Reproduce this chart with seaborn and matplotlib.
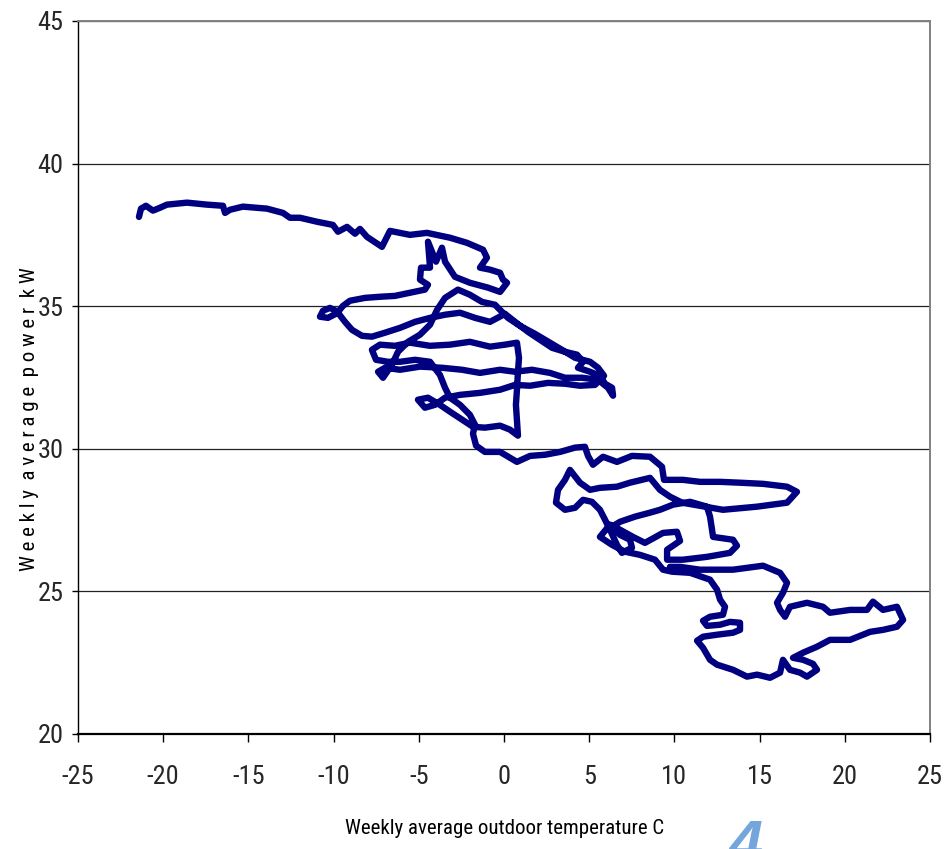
import numpy as np
import pandas as pd
import matplotlib
matplotlib.use("Agg")
import matplotlib.pyplot as plt
from matplotlib import font_manager as fm
import seaborn as sns

# weekly average outdoor temperature (C)
temperature = [
    -21.42, -21.30, -21.01, -20.60, -20.19, -19.78, -18.60, -17.43, -16.49, -16.37,
    -16.08, -15.32, -13.91, -12.97, -12.56, -11.97, -10.97, -10.04, -9.74, -9.21,
    -8.74, -8.45, -8.04, -7.16, -6.69, -5.52, -4.52, -3.17, -2.17, -1.23,
    -1.00, -1.41, -0.82, -0.23, -0.06, 0.18,
    -0.23, -0.94, -2.00, -2.88, -3.46, -3.64, -3.99, -4.46, -4.34, -4.87,
    -4.93, -4.46, -4.64, -5.52, -6.40, -7.28, -8.16, -9.04, -9.45, -9.74,
    -10.21, -10.62, -10.80, -10.33, -9.74, -9.33, -8.92, -8.33,
    -7.75, -6.98, -6.10, -5.22, -4.34, -3.46, -2.58, -1.70, -0.82, 0.06,
    0.65, 1.41, 2.11, 2.82, 3.58, 4.28, 4.64, 4.34, 5.05, 5.63,
    5.93, 6.34, 6.40,
    6.10, 5.52, 4.58, 3.58, 2.70, 1.64, 0.65, -0.23, -1.41, -2.46,
    -3.64, -4.93, -6.10, -6.98, -7.39, -7.10,
    -6.57, -6.22, -5.63, -4.93, -4.34, -3.93, -3.46, -2.70, -2.00, -1.29,
    -0.53, 0.23, 0.94, 1.82, 2.70, 3.40, 4.17, 5.05, 5.52, 5.87,
    5.34, 4.46, 3.58, 2.58, 1.53, 0.65, -0.23, -1.41, -2.58, -3.46,
    -4.05, -4.64, -5.05, -4.46, -3.76, -3.17, -2.46, -1.82, -1.12, -0.23,
    0.35, 0.82,
    0.76, 0.70, 0.76, 0.82, 0.88, 0.76,
    0.06, -0.82, -2.00, -3.17, -4.34, -5.52, -6.40, -7.28, -7.75, -7.51,
    -6.81, -6.10, -5.22, -4.34, -3.76, -3.46, -3.17, -2.58, -2.00, -1.70,
    -1.82, -1.64, -1.12, -0.23, 0.76, 1.53, 2.41, 3.29, 4.17, 4.75,
    4.93, 5.22, 5.81, 6.63, 7.51, 8.57, 9.27, 9.39, 10.50, 11.50,
    12.68, 13.85, 15.20, 16.61, 17.19, 16.61, 14.85, 12.85, 11.50, 10.45,
    9.74, 9.15, 8.57, 7.39, 6.63, 5.63, 5.05, 4.46, 3.87, 3.58,
    3.17, 3.05, 3.58, 4.17, 4.64, 5.16, 5.63, 5.93, 6.22, 6.63,
    6.92, 7.51, 7.39, 6.81, 6.34, 6.81, 7.69, 8.57, 9.15, 9.92,
    10.92, 11.91, 12.09, 12.27, 13.44, 13.67, 13.26, 11.91, 10.50, 9.57,
    9.57, 10.33, 10.15, 9.33, 8.27, 7.57, 6.81, 6.22, 5.63, 6.34,
    7.10, 7.98, 8.86, 9.33, 9.86, 10.92, 12.09, 12.50, 12.68, 12.97,
    12.85, 12.09, 11.68, 11.91, 12.68, 13.26, 13.85, 13.85, 13.44, 12.50,
    11.68, 11.33, 11.68, 12.09, 12.50, 13.44, 14.26, 14.85, 15.61, 16.20,
    16.37, 16.78, 17.37, 17.78, 18.37, 18.13, 17.55, 16.96, 17.55, 18.37,
    19.13, 20.31, 21.48, 22.24, 23.06, 23.42, 23.06, 22.24, 21.65, 21.30,
    20.31, 19.13, 18.72, 17.78, 16.78, 16.49, 16.20, 16.02, 16.37, 16.61,
    16.20, 15.20, 13.44, 11.50, 10.33, 9.74,
]

# weekly average power (kW), same order
power = [
    38.13, 38.42, 38.52, 38.35, 38.45, 38.56, 38.63, 38.56, 38.52, 38.27,
    38.38, 38.49, 38.42, 38.27, 38.10, 38.10, 37.96, 37.85, 37.61, 37.78,
    37.54, 37.71, 37.43, 37.08, 37.64, 37.50, 37.57, 37.40, 37.22, 36.98,
    36.70, 36.35, 36.28, 36.17, 35.93, 35.82,
    35.50, 35.65, 35.82, 36.03, 36.56, 37.05, 36.56, 37.26, 36.35, 36.35,
    35.93, 35.75, 35.58, 35.47, 35.36, 35.33, 35.29, 35.19, 35.01, 34.80,
    34.94, 34.84, 34.63, 34.59, 34.77, 34.45, 34.17, 33.96,
    33.93, 34.07, 34.24, 34.45, 34.59, 34.70, 34.77, 34.59, 34.45, 34.73,
    34.45, 34.10, 33.82, 33.54, 33.40, 33.30, 33.05, 32.84, 32.70, 32.56,
    32.28, 32.14, 31.86,
    32.14, 32.42, 32.49, 32.49, 32.66, 32.77, 32.70, 32.77, 32.66, 32.77,
    32.84, 32.88, 32.77, 32.84, 32.70, 32.49,
    32.95, 33.40, 33.75, 34.00, 34.35, 34.87, 35.29, 35.58, 35.40, 35.15,
    35.05, 34.59, 34.31, 34.03, 33.72, 33.47, 33.19, 33.05, 32.84, 32.56,
    32.24, 32.21, 32.28, 32.31, 32.21, 32.24, 32.07, 31.96, 31.89, 31.79,
    31.54, 31.44, 31.72, 31.79, 31.54, 31.30, 31.02, 30.77, 30.74, 30.81,
    30.67, 30.46,
    31.02, 31.54, 32.07, 32.70, 33.19, 33.72,
    33.65, 33.58, 33.75, 33.65, 33.61, 33.72, 33.61, 33.65, 33.47, 33.12,
    33.05, 33.05, 33.12, 33.05, 32.59, 32.14, 31.79, 31.54, 31.19, 30.84,
    30.53, 30.11, 29.89, 29.89, 29.54, 29.75, 29.79, 29.89, 30.04, 30.07,
    29.75, 29.44, 29.72, 29.54, 29.75, 29.72, 29.37, 28.91, 28.91, 28.84,
    28.84, 28.81, 28.77, 28.67, 28.49, 28.11, 27.97, 27.86, 28.00, 28.11,
    28.32, 28.56, 28.98, 28.81, 28.67, 28.63, 28.56, 28.81, 29.26, 28.91,
    28.56, 28.11, 27.86, 27.93, 28.21, 28.14, 27.86, 27.51, 27.16, 26.63,
    26.35, 26.53, 26.81, 26.98, 27.27, 27.44, 27.62, 27.76, 27.86, 28.04,
    28.14, 27.97, 27.62, 26.91, 26.81, 26.60, 26.35, 26.21, 26.11, 26.11,
    26.46, 26.77, 27.09, 27.05, 26.70, 26.91, 27.16, 27.34, 26.91, 26.63,
    26.39, 26.28, 26.11, 25.76, 25.69, 25.65, 25.41, 25.06, 24.71, 24.46,
    24.18, 24.11, 23.97, 23.79, 23.83, 23.93, 23.90, 23.65, 23.55, 23.48,
    23.41, 23.27, 23.02, 22.60, 22.43, 22.25, 22.01, 22.08, 21.97, 22.15,
    22.60, 22.25, 22.15, 22.01, 22.25, 22.46, 22.60, 22.67, 22.85, 23.06,
    23.30, 23.30, 23.58, 23.65, 23.76, 24.00, 24.46, 24.35, 24.64, 24.35,
    24.35, 24.25, 24.46, 24.60, 24.46, 24.11, 24.35, 24.60, 24.95, 25.30,
    25.65, 25.90, 25.76, 25.76, 25.86, 25.86,
]

x_ticks = [-25, -20, -15, -10, -5, 0, 5, 10, 15, 20, 25]
y_ticks = [20, 25, 30, 35, 40, 45]

df = pd.DataFrame({"temp": temperature, "power": power})

# pick a narrow sans if one is around, the original uses a condensed face
installed = fm.fontManager.ttflist
names = {f.name for f in installed}
family = ["Liberation Sans", "DejaVu Sans"]
stretch = "normal"
for cand in ["Liberation Sans Narrow", "Roboto Condensed", "Open Sans Condensed"]:
    if cand in names:
        family = [cand, "DejaVu Sans"]
        break
else:
    if any(f.name == "DejaVu Sans" and f.stretch == "condensed" for f in installed):
        family = ["DejaVu Sans"]
        stretch = "condensed"

sns.set_theme(style="white")
plt.rcParams["font.family"] = family
plt.rcParams["font.stretch"] = stretch
plt.rcParams["axes.unicode_minus"] = False

fig = plt.figure(figsize=(9.53, 8.49), dpi=100)
ax = fig.add_axes([0.0818, 0.1355, 0.8941, 0.8398])

sns.lineplot(data=df, x="temp", y="power", sort=False, estimator=None,
             color="#000080", linewidth=4.6, ax=ax)
ax.lines[0].set_solid_joinstyle("round")
ax.lines[0].set_solid_capstyle("round")

ax.set_xlim(-25, 25)
ax.set_ylim(20, 45)
ax.set_xticks(x_ticks)
ax.set_yticks(y_ticks)
ax.set_xticklabels([str(v) for v in x_ticks])
ax.set_yticklabels([str(v) for v in y_ticks])

ax.yaxis.grid(True, color="#222222", linewidth=0.9)
ax.xaxis.grid(False)
ax.set_axisbelow(True)

for side in ["left", "bottom"]:
    ax.spines[side].set_color("black")
    ax.spines[side].set_linewidth(1.0)
ax.spines["bottom"].set_linewidth(1.6)
for side in ["top", "right"]:
    ax.spines[side].set_visible(True)
    ax.spines[side].set_color("#808080")
    ax.spines[side].set_linewidth(1.4)

ax.tick_params(axis="x", direction="out", length=6, width=1, color="black",
               labelsize=19, pad=16, bottom=True)
ax.tick_params(axis="y", direction="out", length=4.5, width=1, color="black",
               labelsize=19, pad=6, left=True)

ax.set_xlabel("")
ax.set_ylabel("")
fig.text(0.529, 0.0175, "Weekly average outdoor temperature C", ha="center",
         va="baseline", fontsize=15, color="black")
fig.text(0.031, 0.506, "W e e k l y  a v e r a g e  p o w e r  k W",
         rotation=90, ha="center", va="center", fontsize=15, color="black")
fig.text(0.782, -0.016, "4", ha="center", va="baseline", fontsize=44,
         fontweight="bold", fontstyle="italic", color="#74a6dc",
         family=["Liberation Sans", "DejaVu Sans"], fontstretch="normal")

fig.savefig("out.png", dpi=100)
